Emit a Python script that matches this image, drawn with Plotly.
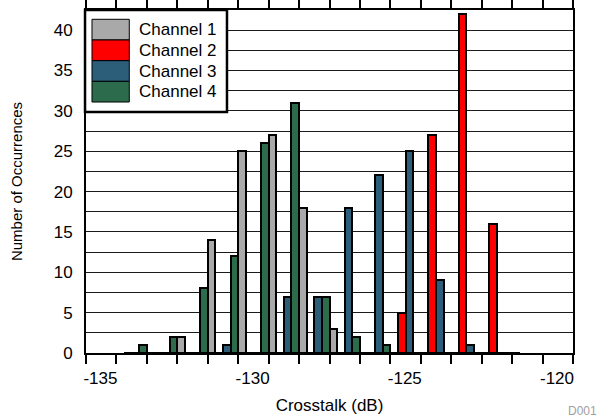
import plotly.graph_objects as go

# ---- data ----
bin_centers = [-134.25, -133.25, -132.25, -131.25, -130.25, -129.25, -128.25,
               -127.25, -126.25, -125.25, -124.25, -123.25, -122.25]
channel_1 = [0, 2, 14, 25, 27, 18, 3, 0, 0, 0, 0, 0, 0]
channel_2 = [0, 0, 0, 0, 0, 0, 0, 0, 0, 5, 27, 42, 16]
channel_3 = [0, 0, 0, 1, 0, 7, 7, 18, 22, 25, 9, 1, 0]
channel_4 = [1, 2, 8, 12, 26, 31, 7, 2, 1, 0, 0, 0, 0]

series_names = ["Channel 1", "Channel 2", "Channel 3", "Channel 4"]
series_values = [channel_1, channel_2, channel_3, channel_4]
series_colors = ["#A9A9A9", "#FF0000", "#2C5D79", "#2C6B4B"]
draw_order = [1, 2, 3, 0]  # slot order inside each group: Ch2, Ch3, Ch4, Ch1

x_tick_values = [-136, -135, -134, -133, -132, -131, -130, -129, -128,
                 -127, -126, -125, -124, -123, -122, -121, -120]
x_tick_labels = ["", "-135", "", "", "", "", "-130", "", "", "",
                 "", "-125", "", "", "", "", "-120"]
y_tick_values = [0, 2.5, 5, 7.5, 10, 12.5, 15, 17.5, 20, 22.5, 25, 27.5,
                 30, 32.5, 35, 37.5, 40]
y_tick_labels = ["0", "", "5", "", "10", "", "15", "", "20", "", "25", "",
                 "30", "", "35", "", "40"]

FONT = "Liberation Sans, Arial, sans-serif"

fig = go.Figure()
for i in draw_order:
    fig.add_trace(go.Bar(
        x=bin_centers, y=series_values[i], name=series_names[i],
        marker=dict(color=series_colors[i], line=dict(color="black", width=2)),
        showlegend=False,
    ))

fig.update_layout(
    width=603, height=417,
    margin=dict(l=86, r=30, t=10, b=64, autoexpand=False),
    paper_bgcolor="white", plot_bgcolor="white",
    barmode="group", bargap=0, bargroupgap=0,
    font=dict(family=FONT, size=17, color="black"),
    xaxis2=dict(
        overlaying="x", anchor="y", side="top", matches="x",
        range=[-136, -120], automargin=False,
        tickmode="array", tickvals=x_tick_values, showticklabels=False,
        ticks="outside", ticklen=9, tickwidth=1.5, tickcolor="black",
        showline=False, showgrid=False, zeroline=False,
    ),
)

fig.update_xaxes(
    selector=dict(anchor="y", overlaying=None),
)
fig.layout.xaxis.update(
    range=[-136, -120], automargin=False,
    tickmode="array", tickvals=x_tick_values, ticktext=x_tick_labels,
    ticks="outside", ticklen=9, tickwidth=1.5, tickcolor="black",
    ticklabelshift=-16,
    showline=True, linewidth=2, linecolor="black", mirror="allticks",
    showgrid=False, zeroline=False,
    title=dict(text="Crosstalk (dB)", font=dict(size=17), standoff=12),
    tickfont=dict(size=17),
)
fig.update_yaxes(
    range=[0, 42.5], automargin=False,
    tickmode="array", tickvals=y_tick_values, ticktext=y_tick_labels,
    ticks="", ticklabelstandoff=8,
    showline=True, linewidth=2, linecolor="black", mirror=True,
    showgrid=True, gridcolor="#1a1a1a", gridwidth=1, zeroline=False,
    title=dict(text="Number of Occurrences", font=dict(size=15), standoff=27),
    tickfont=dict(size=17),
)

# ---- custom legend (paper coordinates) ----
shapes = [dict(type="rect", xref="paper", yref="paper",
               x0=-0.002, x1=0.2895, y0=0.7026, y1=1.0,
               fillcolor="white", line=dict(color="black", width=2.5),
               layer="above")]
annotations = []
row_top = 0.9729
row_h = 0.0603
for k, (name, col) in enumerate(zip(series_names, series_colors)):
    y1 = row_top - k * row_h
    y0 = y1 - row_h
    shapes.append(dict(type="rect", xref="paper", yref="paper",
                       x0=0.0123, x1=0.0889, y0=y0, y1=y1,
                       fillcolor=col, line=dict(color="black", width=1),
                       layer="above"))
    annotations.append(dict(xref="paper", yref="paper", x=0.1047,
                            y=(y0 + y1) / 2, text=name, showarrow=False,
                            xanchor="left", yanchor="middle",
                            font=dict(size=17, color="black", family=FONT)))
annotations.append(dict(xref="paper", yref="paper", x=0.986, y=-0.169,
                        text="D001", showarrow=False, xanchor="left",
                        yanchor="middle",
                        font=dict(size=12, color="#a0a0a0", family=FONT)))
fig.update_layout(shapes=shapes, annotations=annotations)

fig.write_html("out.html",
               config={"displayModeBar": False},
               post_script="document.body.style.margin='0';")
